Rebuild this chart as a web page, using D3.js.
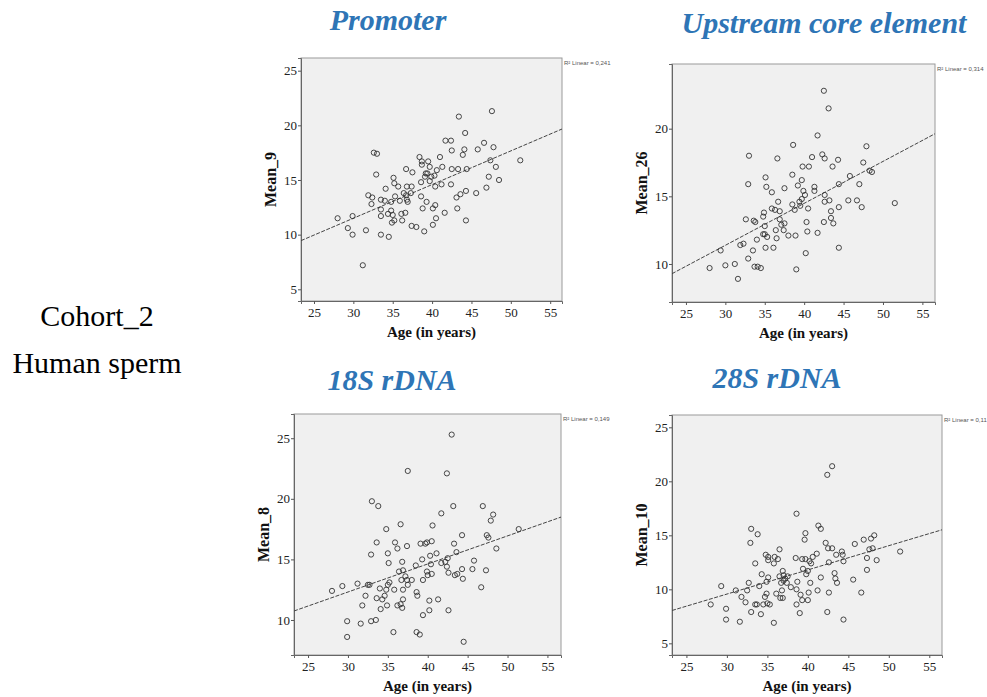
<!DOCTYPE html>
<html>
<head>
<meta charset="utf-8">
<script src="https://cdn.jsdelivr.net/npm/d3@7"></script>
<style>
  body { margin: 0; background: #fff; }
  svg { display: block; }
</style>
</head>
<body>
<svg id="chart" width="987" height="697"></svg>
<script>
// values
const ages1 = [28.0,29.3,29.9,29.9,31.6,31.9,32.4,32.3,32.6,33.0,32.9,33.5,33.5,33.5,33.5,34.1,34.0,34.4,34.5,34.8,34.8,34.9,35.0,35.1,35.2,35.2,35.3,35.7,35.9,36.1,36.2,36.4,36.6,36.7,36.7,36.8,36.9,37.3,37.4,37.4,37.5,38.0,38.4,38.6,38.6,38.7,38.7,38.8,39.0,39.1,39.2,39.3,39.4,39.5,39.7,39.7,39.9,40.1,40.1,40.3,40.4,40.4,40.5,40.6,41.0,41.2,41.3,41.6,41.7,42.4,42.4,42.5,42.5,43.1,43.2,43.3,43.4,43.6,43.9,44.1,44.2,44.3,44.3,44.4,45.6,45.8,46.6,46.9,47.2,47.4,47.6,47.8,48.1,48.5,51.2,31.2,36.8];
const mean9 = [11.5,10.6,11.7,10.0,10.4,13.6,13.4,12.8,17.5,17.4,15.5,13.2,12.3,11.7,10.0,14.2,13.1,11.9,9.8,12.2,13.0,11.1,11.8,15.2,14.7,11.3,13.5,14.4,13.1,11.9,11.3,13.8,12.0,16.0,13.6,14.4,13.0,13.8,14.4,10.8,15.7,10.7,17.1,14.8,13.5,16.7,16.4,12.4,10.3,15.3,15.6,13.0,15.6,16.7,16.2,14.9,15.3,12.4,10.9,15.4,12.7,14.4,11.5,15.9,17.1,14.6,16.2,12.0,18.6,18.6,14.6,16.0,17.7,13.4,12.4,16.0,20.8,13.7,17.3,17.8,19.3,14.0,11.3,16.0,13.8,17.8,18.4,14.3,15.3,16.8,21.3,18.0,16.2,15.0,16.8,7.2,13.2];

const ages2 = [28.0,29.4,30.0,31.2,31.6,31.9,32.3,32.6,32.9,32.9,33.0,33.5,33.6,33.7,33.8,34.0,34.1,34.5,34.8,34.8,34.9,35.0,35.0,35.1,35.1,35.2,35.3,35.9,35.9,36.1,36.3,36.4,36.5,36.6,36.7,36.9,36.9,37.1,37.4,37.5,37.5,38.0,38.5,38.5,38.6,38.8,38.9,39.0,39.2,39.4,39.5,39.7,39.7,39.8,39.9,40.1,40.2,40.3,40.4,40.5,40.6,41.0,41.3,41.3,41.7,41.7,42.3,42.5,42.5,42.6,42.6,42.6,43.1,43.2,43.4,43.4,43.6,43.7,44.3,44.4,44.4,44.4,45.6,45.8,46.7,47.0,47.3,47.5,47.9,48.3,48.6,51.5];
const mean26 = [9.7,11.0,9.9,10.0,8.9,11.4,11.5,13.3,15.9,10.4,18.0,11.0,13.2,9.8,13.1,11.8,9.8,9.7,12.2,13.5,13.8,12.8,12.2,11.2,16.4,15.7,12.0,15.3,14.1,11.2,14.0,12.5,11.9,17.8,14.6,13.3,13.9,12.9,12.5,15.6,13.0,12.1,14.4,16.6,18.8,14.0,12.1,9.6,15.8,14.6,14.3,14.8,16.2,17.2,15.4,15.1,10.8,13.1,12.4,14.1,17.2,17.9,15.7,15.4,12.3,19.5,18.1,22.8,13.1,17.8,15.1,14.6,21.5,14.7,13.4,13.9,17.2,13.0,17.7,15.9,14.2,11.2,14.7,16.5,14.7,15.9,14.2,17.5,18.7,16.9,16.8,14.5];

const ages3 = [28.0,29.3,29.9,29.9,31.2,31.6,31.8,32.2,32.5,32.7,32.9,33.0,32.9,33.5,33.6,33.6,33.8,34.0,34.1,34.3,34.6,34.8,34.8,34.9,35.0,35.0,35.1,35.2,35.7,35.8,35.9,36.2,36.2,36.4,36.6,36.6,36.7,36.8,36.8,36.9,36.9,36.9,37.2,37.4,37.4,37.5,37.5,38.0,38.5,38.6,38.6,38.7,39.0,39.1,39.3,39.4,39.4,39.7,39.9,39.9,40.0,40.2,40.2,40.3,40.4,40.5,40.5,40.6,41.1,41.3,41.7,41.7,42.2,42.4,42.4,42.5,42.6,42.6,43.0,43.2,43.3,43.4,43.6,43.7,44.3,44.3,44.4,44.5,45.8,45.6,46.7,46.9,47.3,47.4,47.6,47.9,48.2,48.6,51.4];
const mean8 = [12.4,12.8,9.9,8.6,13.0,9.7,11.2,12.0,12.9,12.9,15.4,19.8,9.9,10.0,16.4,11.8,19.4,12.6,10.9,11.7,12.0,17.5,12.5,11.2,12.9,15.5,14.7,13.1,9.0,12.5,16.4,15.9,11.2,14.0,11.3,17.9,13.3,11.0,14.8,14.1,11.7,12.5,13.6,13.3,16.1,22.3,12.9,13.3,14.5,9.0,12.3,12.0,8.8,16.3,15.0,13.3,10.4,16.3,16.4,14.0,13.7,11.6,10.8,15.3,14.6,13.8,16.5,17.8,15.5,11.7,18.8,14.7,14.8,14.4,22.1,15.1,10.8,13.9,25.3,19.4,16.3,13.7,15.6,13.8,14.2,17.0,13.4,8.2,14.9,14.2,12.7,19.4,14.1,17.0,16.8,18.2,18.7,15.9,17.5];

const ages4 = [28.0,29.3,29.9,29.9,31.1,31.6,31.8,32.3,32.5,32.7,32.9,33.0,33.0,33.5,33.5,33.7,33.8,34.0,34.2,34.3,34.5,34.7,34.8,34.9,34.9,35.0,35.1,35.1,35.1,35.3,35.8,35.8,35.9,36.1,36.3,36.5,36.5,36.6,36.7,36.8,36.9,36.9,37.0,37.0,37.2,37.4,37.5,37.9,38.5,38.6,38.6,38.6,38.7,39.0,39.1,39.3,39.3,39.4,39.6,39.7,39.7,39.8,40.0,40.0,40.1,40.2,40.3,40.4,40.6,41.1,41.2,41.3,41.6,41.6,42.2,42.4,42.5,42.6,42.6,42.4,43.0,43.0,43.3,43.4,43.5,43.6,44.2,44.3,44.4,44.4,45.6,45.8,46.6,46.9,47.3,47.3,47.6,47.8,48.0,48.2,48.5,51.4];
const mean10 = [8.6,10.3,8.2,7.2,9.9,7.0,9.3,8.8,9.9,10.6,14.3,7.9,15.6,12.4,8.6,8.6,15.1,10.3,7.7,11.4,8.6,9.3,13.2,10.7,9.6,8.7,11.1,13.0,12.7,8.6,6.9,12.4,13.0,9.6,12.8,13.7,11.2,9.2,10.6,9.9,11.7,9.2,10.8,11.3,11.0,10.6,11.2,10.2,12.9,17.0,8.6,10.0,10.7,7.8,9.5,12.8,9.0,11.9,14.6,12.8,15.2,11.4,11.7,9.0,9.7,12.6,10.6,12.4,13.0,13.3,9.9,15.9,11.1,15.6,14.3,7.9,13.8,9.7,12.5,20.6,21.4,13.8,11.5,11.0,13.2,10.6,13.5,13.2,12.6,7.2,10.9,14.2,9.7,14.6,11.8,12.9,13.7,14.7,13.8,15.0,12.7,13.5];

const titles = ["Promoter", "Upstream core element", "18S rDNA", "28S rDNA"];
const yLabels = ["Mean_9", "Mean_26", "Mean_8", "Mean_10"];
const r2Labels = ["R² Linear = 0,241", "R² Linear = 0,314", "R² Linear = 0,149", "R² Linear = 0,11"];
const fitIntercepts = [2.26, 2.08, 5.36, 2.84];
const fitSlopes = [0.308, 0.310, 0.2316, 0.224];
const xTicks = [25, 30, 35, 40, 45, 50, 55];
const yTicks = [[5, 10, 15, 20, 25], [10, 15, 20], [10, 15, 20, 25], [5, 10, 15, 20, 25]];
const xLabel = "Age (in years)";
const sideLabels = ["Cohort_2", "Human sperm"];

const svg = d3.select("#chart");
const serif = "'Liberation Serif', 'Times New Roman', serif";

// panel boxes on the page
const panels = [
  { ages: ages1, vals: mean9,  left: 301, right: 562, top: 58,  bottom: 301, xd: [23.35, 56.5], yd: [3.93, 26.16], tx: 388, ty: 30 },
  { ages: ages2, vals: mean26, left: 672, right: 935, top: 64,  bottom: 302, xd: [23.23, 56.6], yd: [7.19, 24.78], tx: 824, ty: 33 },
  { ages: ages3, vals: mean8,  left: 294, right: 561, top: 414, bottom: 655, xd: [23.24, 56.7], yd: [7.11, 27.0],  tx: 392, ty: 390 },
  { ages: ages4, vals: mean10, left: 672, right: 942, top: 415, bottom: 655, xd: [23.22, 56.57], yd: [3.92, 26.14], tx: 777, ty: 388 }
];

panels.forEach((p, i) => {
  const x = d3.scaleLinear().domain(p.xd).range([p.left, p.right]);
  const y = d3.scaleLinear().domain(p.yd).range([p.bottom, p.top]);
  const g = svg.append("g");

  g.append("rect")
    .attr("x", p.left).attr("y", p.top)
    .attr("width", p.right - p.left).attr("height", p.bottom - p.top)
    .attr("fill", "#f0f0f0")
    .attr("stroke", "#9a9a9a")
    .attr("stroke-width", 1);

  // axes
  const xAxis = g.append("g")
    .attr("transform", `translate(0,${p.bottom})`)
    .call(d3.axisBottom(x).tickValues(xTicks).tickSize(3).tickPadding(4));
  const yAxis = g.append("g")
    .attr("transform", `translate(${p.left},0)`)
    .call(d3.axisLeft(y).tickValues(yTicks[i]).tickSize(3).tickPadding(1));
  [xAxis, yAxis].forEach(a => {
    a.attr("font-family", serif).attr("font-size", 13);
    a.select(".domain").attr("stroke", "#666");
    a.selectAll(".tick line").attr("stroke", "#555");
    a.selectAll("text").attr("fill", "#222");
  });

  // fit line
  g.append("line")
    .attr("x1", x(p.xd[0])).attr("y1", y(fitIntercepts[i] + fitSlopes[i] * p.xd[0]))
    .attr("x2", x(p.xd[1])).attr("y2", y(fitIntercepts[i] + fitSlopes[i] * p.xd[1]))
    .attr("stroke", "#444")
    .attr("stroke-width", 1)
    .attr("stroke-dasharray", "4,1.5");

  // points
  g.selectAll("circle")
    .data(p.ages.map((a, k) => [a, p.vals[k]]))
    .enter()
    .append("circle")
    .attr("cx", d => x(d[0]))
    .attr("cy", d => y(d[1]))
    .attr("r", 2.6)
    .attr("fill", "none")
    .attr("stroke", "#333")
    .attr("stroke-width", 0.9);

  g.append("text")
    .attr("x", p.right + 2).attr("y", p.top + 7)
    .style("font-family", "'Liberation Sans', Arial, sans-serif")
    .style("font-size", "6px")
    .attr("fill", "#555")
    .text(r2Labels[i]);

  g.append("text")
    .attr("x", (p.left + p.right) / 2).attr("y", p.bottom + 36)
    .attr("text-anchor", "middle")
    .style("font-family", serif)
    .style("font-weight", "bold")
    .style("font-size", "15px")
    .attr("fill", "#111")
    .text(xLabel);

  g.append("text")
    .attr("transform", `translate(${p.left - 25},${(p.top + p.bottom) / 2}) rotate(-90)`)
    .attr("text-anchor", "middle")
    .style("font-family", serif)
    .style("font-weight", "bold")
    .style("font-size", "16px")
    .attr("fill", "#111")
    .text(yLabels[i]);

  // panel title
  svg.append("text")
    .attr("x", p.tx).attr("y", p.ty)
    .attr("text-anchor", "middle")
    .style("font-family", serif)
    .style("font-weight", "bold")
    .style("font-style", "italic")
    .style("font-size", "30px")
    .attr("fill", "#2e75b6")
    .text(titles[i]);
});

svg.selectAll(".side")
  .data(sideLabels)
  .enter()
  .append("text")
  .attr("class", "side")
  .attr("x", 97)
  .attr("y", (d, k) => 326 + k * 47)
  .attr("text-anchor", "middle")
  .style("font-family", serif)
  .style("font-size", "30px")
  .attr("fill", "#000")
  .text(d => d);
</script>
</body>
</html>
